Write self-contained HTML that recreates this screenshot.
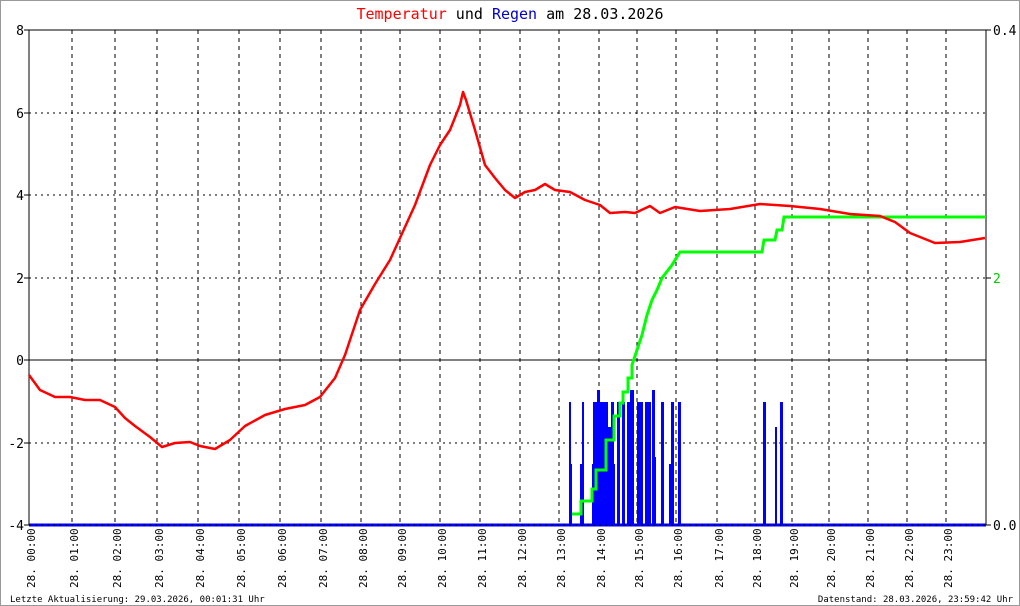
<!DOCTYPE html>
<html><head><meta charset="utf-8"><style>
body{margin:0;background:#fff}
svg{display:block;font-family:"DejaVu Sans Mono","Liberation Mono",monospace}
</style></head><body>
<svg width="1020" height="606" viewBox="0 0 1020 606">
<rect x="0.5" y="0.5" width="1019" height="605" fill="#fff" stroke="#999"/>
<text x="510" y="19" text-anchor="middle" font-size="15"><tspan fill="#f00">Temperatur</tspan> und <tspan fill="#00c">Regen</tspan> am 28.03.2026</text>
<g stroke="#000" stroke-width="1" stroke-dasharray="4,4" fill="none">
<path d="M72 30V525M115 30V525M157 30V525M198 30V525M239 30V525M280 30V525M321 30V525M361 30V525M400 30V525M440 30V525M480 30V525M520 30V525M559 30V525M599 30V525M637 30V525M676 30V525M717 30V525M755 30V525M792 30V525M829 30V525M868 30V525M907 30V525M946 30V525"/>
</g>
<g stroke="#000" stroke-dasharray="2,4" fill="none">
<path d="M29 113H986M29 195H986M29 278H986M29 443H986"/>
</g>
<path d="M29 360H986" stroke="#000"/>
<path d="M29 30V525M986 30V525M29 30H986" stroke="#000" fill="none"/>
<g fill="#00f">
<rect x="569" y="402" width="2" height="123"/><rect x="571" y="464" width="1" height="61"/>
<rect x="582" y="402" width="2" height="123"/><rect x="580" y="464" width="2" height="61"/>
<rect x="592" y="464" width="2" height="61"/><rect x="593" y="402" width="4" height="123"/>
<rect x="597" y="390" width="3" height="135"/><rect x="600" y="402" width="8" height="123"/>
<rect x="608" y="427" width="4" height="98"/><rect x="611" y="402" width="3" height="123"/>
<rect x="614" y="464" width="1" height="61"/>
<rect x="617" y="402" width="3" height="123"/><rect x="622" y="402" width="3" height="123"/>
<rect x="627" y="402" width="3" height="123"/><rect x="630" y="390" width="4" height="135"/>
<rect x="637" y="402" width="6" height="123"/><rect x="645" y="402" width="6" height="123"/>
<rect x="652" y="390" width="3" height="135"/><rect x="655" y="457" width="1" height="68"/>
<rect x="661" y="402" width="3" height="123"/><rect x="671" y="402" width="3" height="123"/>
<rect x="669" y="464" width="2" height="61"/><rect x="678" y="402" width="3" height="123"/>
<rect x="763" y="402" width="3" height="123"/><rect x="775" y="427" width="2" height="98"/>
<rect x="780" y="402" width="3" height="123"/>
</g>
<path d="M29 525H986" stroke="#00f" stroke-width="3"/>
<path d="M29 525H986" stroke="#000" stroke-dasharray="2,4"/>
<polyline fill="none" stroke="#0f0" stroke-width="3" points="572,514 581,514 581,501 592,501 592,489 596,489 596,470 606,470 606,440 614,440 614,416 620,416 620,403 623,403 623,392 628,392 628,378 632,378 632,365 637,350 642,335 647,315 652,300 657,290 662,278 672,265 680,252 762,252 764,240 775,240 777,230 782,230 784,217 986,217"/>
<polyline fill="none" stroke="#f00" stroke-width="2.5" stroke-linejoin="round" points="29,375 40,390 55,397 70,397 85,400 100,400 115,407 125,418 135,426 150,437 162,447 175,443 190,442 200,446 215,449 230,440 245,426 265,415 285,409 305,405 320,397 335,378 345,355 360,310 375,284 390,260 400,238 415,205 430,165 440,145 450,130 460,105 463,92 466,100 475,130 485,165 495,178 505,190 515,198 525,192 535,190 545,184 555,190 570,192 585,200 600,205 610,213 625,212 635,213 650,206 660,213 675,207 700,211 730,209 760,204 790,206 820,209 850,214 880,216 895,222 910,233 935,243 960,242 985,238"/>
<g font-size="13" fill="#000" text-anchor="end">
<text x="24" y="35">8</text><text x="24" y="118">6</text><text x="24" y="200">4</text><text x="24" y="283">2</text><text x="24" y="365">0</text><text x="24" y="448">-2</text><text x="24" y="530">-4</text>
</g>
<g stroke="#000"><path d="M24 30H29M24 113H29M24 195H29M24 278H29M24 360H29M24 443H29M24 525H29M986 30H991M986 525H991M986 278H991"/></g>
<g font-size="13"><text x="993" y="35">0.4</text><text x="993" y="530">0.0</text><text x="993" y="283" fill="#0c0">2</text></g>
<g font-size="11" fill="#000">
<text transform="translate(35,588) rotate(-90)">28. 00:00</text>
<text transform="translate(78,588) rotate(-90)">28. 01:00</text>
<text transform="translate(121,588) rotate(-90)">28. 02:00</text>
<text transform="translate(163,588) rotate(-90)">28. 03:00</text>
<text transform="translate(204,588) rotate(-90)">28. 04:00</text>
<text transform="translate(245,588) rotate(-90)">28. 05:00</text>
<text transform="translate(286,588) rotate(-90)">28. 06:00</text>
<text transform="translate(327,588) rotate(-90)">28. 07:00</text>
<text transform="translate(367,588) rotate(-90)">28. 08:00</text>
<text transform="translate(406,588) rotate(-90)">28. 09:00</text>
<text transform="translate(446,588) rotate(-90)">28. 10:00</text>
<text transform="translate(486,588) rotate(-90)">28. 11:00</text>
<text transform="translate(526,588) rotate(-90)">28. 12:00</text>
<text transform="translate(565,588) rotate(-90)">28. 13:00</text>
<text transform="translate(605,588) rotate(-90)">28. 14:00</text>
<text transform="translate(643,588) rotate(-90)">28. 15:00</text>
<text transform="translate(682,588) rotate(-90)">28. 16:00</text>
<text transform="translate(723,588) rotate(-90)">28. 17:00</text>
<text transform="translate(761,588) rotate(-90)">28. 18:00</text>
<text transform="translate(798,588) rotate(-90)">28. 19:00</text>
<text transform="translate(835,588) rotate(-90)">28. 20:00</text>
<text transform="translate(874,588) rotate(-90)">28. 21:00</text>
<text transform="translate(913,588) rotate(-90)">28. 22:00</text>
<text transform="translate(952,588) rotate(-90)">28. 23:00</text>
</g>
<g font-size="9" fill="#000">
<text x="10" y="602">Letzte Aktualisierung: 29.03.2026, 00:01:31 Uhr</text>
<text x="1013" y="602" text-anchor="end">Datenstand: 28.03.2026, 23:59:42 Uhr</text>
</g>
</svg>
</body></html>
